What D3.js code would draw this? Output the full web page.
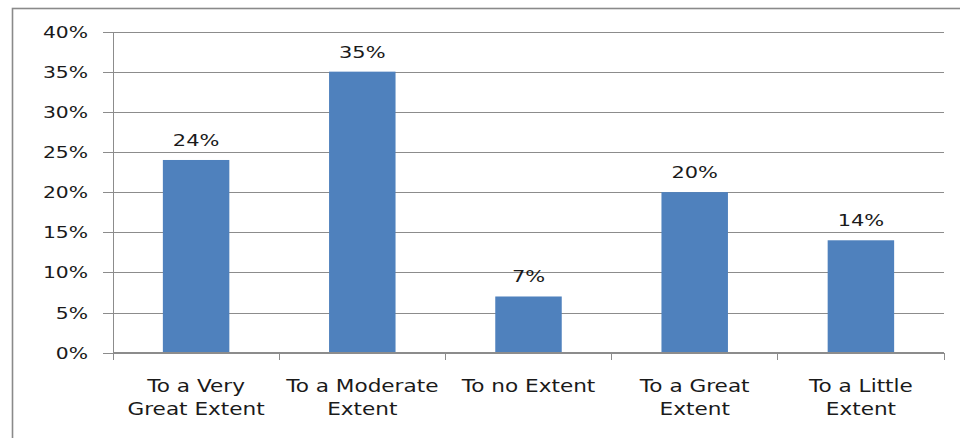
<!DOCTYPE html>
<html>
<head>
<meta charset="utf-8">
<script src="https://cdn.jsdelivr.net/npm/d3@7"></script>
<style>
  html, body { margin: 0; padding: 0; background: #fff; }
  svg { display: block; }
  text { font-family: "DejaVu Sans", Verdana, sans-serif; fill: #1a1a1a; }
</style>
</head>
<body>
<svg id="chart" width="960" height="438"></svg>
<script>
// Survey responses: share of respondents per answer
const categories = [
  "To a Very Great Extent",
  "To a Moderate Extent",
  "To no Extent",
  "To a Great Extent",
  "To a Little Extent"
];
// Axis label lines for each category
const categoryLines = [
  ["To a Very", "Great Extent"],
  ["To a Moderate", "Extent"],
  ["To no Extent"],
  ["To a Great", "Extent"],
  ["To a Little", "Extent"]
];
const values = [0.24, 0.35, 0.07, 0.20, 0.14];
const yTicks = [0, 0.05, 0.10, 0.15, 0.20, 0.25, 0.30, 0.35, 0.40];

const svg = d3.select("#chart");
const plot = { left: 113, right: 944, top: 31.5, bottom: 352.7 };
const SX = 1.27;          // horizontal stretch of the lettering
const gridColor = "#8c8c8c";
const barColor = "#4f81bd";

// Outer chart frame (runs off the right and bottom edges)
svg.append("rect")
  .attr("x", 12.5).attr("y", 8.5)
  .attr("width", 1000).attr("height", 600)
  .attr("fill", "none").attr("stroke", "#8a8a8a").attr("stroke-width", 1.6);

const x = d3.scaleBand()
  .domain(categories)
  .range([plot.left, plot.right])
  .paddingInner(0.6)
  .paddingOuter(0.3);

const y = d3.scaleLinear()
  .domain([0, 0.4])
  .range([plot.bottom, plot.top]);

const pct = d3.format(".0%");

// Horizontal gridlines with small ticks to the left of the axis
const yAxis = d3.axisLeft(y)
  .tickValues(yTicks)
  .tickSize(-(plot.right - plot.left))
  .tickPadding(0)
  .tickFormat("");
const gy = svg.append("g")
  .attr("transform", `translate(${plot.left},0)`)
  .call(yAxis);
gy.select(".domain").remove();
gy.selectAll(".tick line")
  .attr("x1", -10)
  .attr("stroke", gridColor)
  .attr("stroke-width", 1)
  .attr("shape-rendering", "crispEdges");

// Y tick labels
svg.append("g").selectAll("text")
  .data(yTicks)
  .join("text")
  .attr("transform", d => `translate(88,${y(d) + 6}) scale(${SX},1)`)
  .attr("text-anchor", "end")
  .attr("font-size", 16)
  .text(d => pct(d));

// Vertical axis line
svg.append("line")
  .attr("x1", plot.left).attr("x2", plot.left)
  .attr("y1", plot.top).attr("y2", plot.bottom)
  .attr("stroke", gridColor).attr("shape-rendering", "crispEdges");

// Bars
svg.append("g").selectAll("rect")
  .data(values)
  .join("rect")
  .attr("x", (d, i) => x(categories[i]))
  .attr("y", d => y(d))
  .attr("width", x.bandwidth())
  .attr("height", d => y(0) - y(d))
  .attr("fill", barColor);

// Category axis along the bottom with ticks between categories
const step = x.step();
const bounds = d3.range(categories.length + 1)
  .map(i => plot.left + i * step);
svg.append("line")
  .attr("x1", plot.left).attr("x2", plot.right)
  .attr("y1", plot.bottom).attr("y2", plot.bottom)
  .attr("stroke", gridColor).attr("shape-rendering", "crispEdges");
svg.append("g").selectAll("line")
  .data(bounds)
  .join("line")
  .attr("x1", d => d).attr("x2", d => d)
  .attr("y1", plot.bottom).attr("y2", plot.bottom + 7)
  .attr("stroke", gridColor).attr("shape-rendering", "crispEdges");

// Value labels above bars
svg.append("g").selectAll("text")
  .data(values)
  .join("text")
  .attr("transform", (d, i) =>
    `translate(${x(categories[i]) + x.bandwidth() / 2},${y(d) - 14}) scale(${SX},1)`)
  .attr("text-anchor", "middle")
  .attr("font-size", 16.5)
  .text(d => pct(d));

// Category labels, one or two lines each
const cl = svg.append("g").selectAll("g")
  .data(categories)
  .join("g")
  .attr("transform", d => `translate(${x(d) + x.bandwidth() / 2},0)`);
cl.selectAll("text")
  .data((d, i) => categoryLines[i])
  .join("text")
  .attr("transform", (t, j) => `translate(0,${392 + j * 22.5}) scale(${SX},1)`)
  .attr("text-anchor", "middle")
  .attr("font-size", 17)
  .text(t => t);
</script>
</body>
</html>
